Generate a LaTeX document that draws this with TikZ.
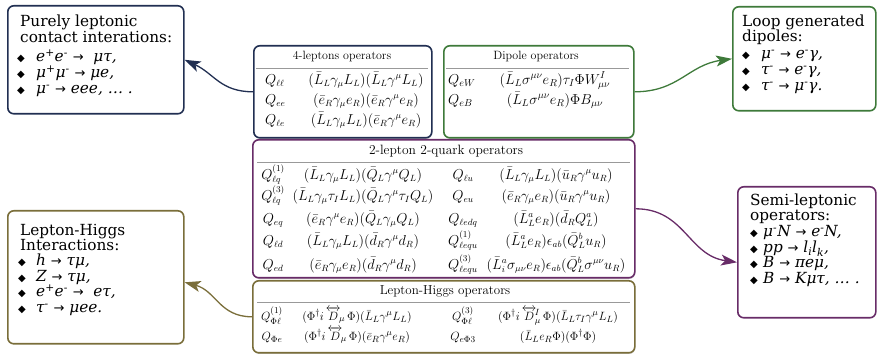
\documentclass[tikz,border=0pt]{standalone}
\usepackage{amsmath}
\usepackage{fontspec}
\usetikzlibrary{arrows.meta,shadows}
\newfontfamily\sch{DejaVu Serif}
\newfontfamily\dvs{DejaVu Sans}
\definecolor{cnavy}{RGB}{33,47,82}
\definecolor{cgreen}{RGB}{62,122,58}
\definecolor{cpurple}{RGB}{104,44,104}
\definecolor{colive}{RGB}{122,110,58}
\newcommand\bul{{\dvs\fontsize{10}{10}\selectfont ◆}}
\newcommand\arr{{\dvs\fontsize{13}{13}\selectfont →}}
\newcommand\sps[1]{\textsuperscript{#1}}
\begin{document}
\begin{tikzpicture}[x=1pt,y=1pt,
  sbox/.style={draw, rounded corners=6pt, line width=1.6pt, fill=white, inner sep=0pt, anchor=north west},
  tbox/.style={sbox, drop shadow={shadow xshift=0.5pt, shadow yshift=-1.2pt, fill=black!35}},
  sidetxt/.style={anchor=base west, inner sep=0pt, font=\sch\fontsize{15.3}{17}\selectfont},
  qcell/.style={anchor=mid west, inner sep=0pt},
  ccell/.style={anchor=mid, inner sep=0pt},
  sepline/.style={draw=black!40, line width=0.6pt},
  conn/.style={line width=1.3pt, -{Stealth[length=16pt,width=11pt,inset=4pt]}}]
\useasboundingbox (0,0) rectangle (878,355);

% ---------- boxes ----------
\node[sbox, draw=cnavy, minimum width=176pt, minimum height=108pt] (pl) at (7,350) {};
\node[tbox, draw=cnavy, minimum width=178pt, minimum height=92pt] (fl) at (253,310) {};
\node[tbox, draw=cgreen, minimum width=190pt, minimum height=92pt] (dip) at (443,310) {};
\node[sbox, draw=cgreen, minimum width=143pt, minimum height=104pt] (loop) at (732,349) {};
\node[tbox, draw=cpurple, minimum width=382pt, minimum height=138pt] (tq) at (252,216) {};
\node[sbox, draw=cpurple, minimum width=138pt, minimum height=131pt] (semi) at (737,169) {};
\node[sbox, draw=colive, minimum width=176pt, minimum height=133pt] (lhi) at (7,145) {};
\node[tbox, draw=colive, minimum width=382pt, minimum height=72pt] (lho) at (252,75) {};

% ---------- side texts ----------
\node[sidetxt] (pl1) at (20,328) {Purely leptonic};
\node[sidetxt] (pl2) at (20,312) {contact interations:};
\node[sidetxt] (pl3) at (17,293) {\makebox[19pt][l]{\bul}\itshape e\sps{+}e\sps{-} \arr{}\ \ μτ,};
\node[sidetxt] (pl4) at (17,277) {\makebox[19pt][l]{\bul}\itshape μ\sps{+}μ\sps{-} \arr{} μe,};
\node[sidetxt] (pl5) at (17,261) {\makebox[19pt][l]{\bul}\itshape μ\sps{-} \arr{} eee, … .};

\node[sidetxt] (lp1) at (742,328) {Loop generated};
\node[sidetxt] (lp2) at (742,313) {dipoles:};
\node[sidetxt] (lp3) at (742,296) {\makebox[19pt][l]{\bul}\itshape μ\sps{-} \arr{} e\sps{-}γ,};
\node[sidetxt] (lp4) at (742,280) {\makebox[19pt][l]{\bul}\itshape τ\sps{-} \arr{} e\sps{-}γ,};
\node[sidetxt] (lp5) at (742,264) {\makebox[19pt][l]{\bul}\itshape τ\sps{-} \arr{} μ\sps{-}γ.};

\node[sidetxt] (lh1) at (20,119) {Lepton-Higgs};
\node[sidetxt] (lh2) at (20,104) {Interactions:};
\node[sidetxt] (lh3) at (18,89) {\makebox[18pt][l]{\bul}\itshape h \arr{} τμ,};
\node[sidetxt] (lh4) at (18,73) {\makebox[18pt][l]{\bul}\itshape Z \arr{} τμ,};
\node[sidetxt] (lh5) at (18,58) {\makebox[18pt][l]{\bul}\itshape e\sps{+}e\sps{-} \arr{}\ \ eτ,};
\node[sidetxt] (lh6) at (18,42) {\makebox[18pt][l]{\bul}\itshape τ\sps{-} \arr{} μee.};

\node[sidetxt] (sm1) at (750,149) {Semi-leptonic};
\node[sidetxt] (sm2) at (750,134) {operators:};
\node[sidetxt] (sm3) at (750,118) {\makebox[13pt][l]{\bul}\itshape μ\sps{-}N \arr{} e\sps{-}N,};
\node[sidetxt] (sm4) at (750,102) {\makebox[13pt][l]{\bul}\itshape pp \arr{} l\textsubscript{i}l\textsubscript{k},};
\node[sidetxt] (sm5) at (750,87) {\makebox[13pt][l]{\bul}\itshape B \arr{} πeμ,};
\node[sidetxt] (sm6) at (750,71) {\makebox[13pt][l]{\bul}\itshape B \arr{} Kμτ, … .};

% ---------- 4-leptons table ----------
\node[ccell, font=\fontsize{12}{14}\selectfont] (flt) at (342,298) {4-leptons operators};
\draw[sepline] (256,287) -- (428,287);
\begin{scope}[every node/.append style={font=\fontsize{13.5}{15}\selectfont}]
\node[qcell] (flq1) at (265,273) {$Q_{\ell\ell}$};
\node[ccell] (fle1) at (366,273) {$(\bar L_L\gamma_\mu L_L)(\bar L_L\gamma^\mu L_L)$};
\node[qcell] (flq2) at (265,253) {$Q_{ee}$};
\node[ccell] (fle2) at (366,253) {$(\bar e_R\gamma_\mu e_R)(\bar e_R\gamma^\mu e_R)$};
\node[qcell] (flq3) at (265,233) {$Q_{\ell e}$};
\node[ccell] (fle3) at (366,233) {$(\bar L_L\gamma_\mu L_L)(\bar e_R\gamma^\mu e_R)$};
\end{scope}

% ---------- dipole table ----------
\node[ccell, font=\fontsize{12}{14}\selectfont] (dpt) at (536,298) {Dipole operators};
\draw[sepline] (446,287) -- (629,287);
\begin{scope}[every node/.append style={font=\fontsize{14}{16}\selectfont}]
\node[qcell] (dpq1) at (448,273) {$Q_{eW}$};
\node[ccell] (dpe1) at (555,273) {$(\bar L_L\sigma^{\mu\nu}e_R)\tau_I\Phi W^I_{\mu\nu}$};
\node[qcell] (dpq2) at (448,253) {$Q_{eB}$};
\node[ccell] (dpe2) at (555,253) {$(\bar L_L\sigma^{\mu\nu}e_R)\Phi B_{\mu\nu}$};
\end{scope}

% ---------- 2-lepton 2-quark table ----------
\begin{scope}[every node/.append style={font=\fontsize{13.5}{15}\selectfont}]
\node[ccell] (tqt) at (446,203) {2-lepton 2-quark operators};
\draw[sepline] (257,193) -- (630,193);
\node[ccell] (tqa1) at (273,178) {$Q^{(1)}_{\ell q}$};
\node[ccell] (tqb1) at (363,178) {$(\bar L_L\gamma_\mu L_L)(\bar Q_L\gamma^\mu Q_L)$};
\node[ccell] (tqc1) at (463,178) {$Q_{\ell u}$};
\node[ccell] (tqd1) at (556,178) {$(\bar L_L\gamma_\mu L_L)(\bar u_R\gamma^\mu u_R)$};
\node[ccell] (tqa2) at (273,157) {$Q^{(3)}_{\ell q}$};
\node[ccell] (tqb2) at (363,157) {$(\bar L_L\gamma_\mu\tau_I L_L)(\bar Q_L\gamma^\mu\tau_I Q_L)$};
\node[ccell] (tqc2) at (463,157) {$Q_{eu}$};
\node[ccell] (tqd2) at (556,157) {$(\bar e_R\gamma_\mu e_R)(\bar u_R\gamma^\mu u_R)$};
\node[ccell] (tqa3) at (273,134) {$Q_{eq}$};
\node[ccell] (tqb3) at (363,134) {$(\bar e_R\gamma^\mu e_R)(\bar Q_L\gamma_\mu Q_L)$};
\node[ccell] (tqc3) at (463,134) {$Q_{\ell edq}$};
\node[ccell] (tqd3) at (556,134) {$(\bar L^a_L e_R)(\bar d_R Q^a_L)$};
\node[ccell] (tqa4) at (273,112) {$Q_{\ell d}$};
\node[ccell] (tqb4) at (363,112) {$(\bar L_L\gamma_\mu L_L)(\bar d_R\gamma^\mu d_R)$};
\node[ccell] (tqc4) at (463,112) {$Q^{(1)}_{\ell equ}$};
\node[ccell] (tqd4) at (556,112) {$(\bar L^a_L e_R)\epsilon_{ab}(\bar Q^b_L u_R)$};
\node[ccell] (tqa5) at (273,88) {$Q_{ed}$};
\node[ccell] (tqb5) at (363,88) {$(\bar e_R\gamma_\mu e_R)(\bar d_R\gamma^\mu d_R)$};
\node[ccell] (tqc5) at (463,88) {$Q^{(3)}_{\ell equ}$};
\node[ccell] (tqd5) at (556,88) {$(\bar L^a_i\sigma_{\mu\nu} e_R)\epsilon_{ab}(\bar Q^b_L\sigma^{\mu\nu} u_R)$};
\end{scope}

% ---------- Lepton-Higgs table ----------
\begin{scope}[every node/.append style={font=\fontsize{13}{15}\selectfont}]
\node[ccell] (lot) at (445,63) {Lepton-Higgs operators};
\draw[sepline] (257,53) -- (630,53);
\node[ccell] (loa1) at (272,37) {$Q^{(1)}_{\Phi\ell}$};
\node[ccell] (lob1) at (357,37) {$(\Phi^\dagger i\,\overleftrightarrow{D}_{\!\mu}\,\Phi)(\bar L_L\gamma^\mu L_L)$};
\node[ccell] (loc1) at (463,37) {$Q^{(3)}_{\Phi\ell}$};
\node[ccell] (lod1) at (558,37) {$(\Phi^\dagger i\,\overleftrightarrow{D}^{\!I}_{\!\mu}\,\Phi)(\bar L_L\tau_I\gamma^\mu L_L)$};
\node[ccell] (loa2) at (272,17) {$Q_{\Phi e}$};
\node[ccell] (lob2) at (357,17) {$(\Phi^\dagger i\,\overleftrightarrow{D}_{\!\mu}\,\Phi)(\bar e_R\gamma^\mu e_R)$};
\node[ccell] (loc2) at (463,17) {$Q_{e\Phi 3}$};
\node[ccell] (lod2) at (558,17) {$(\bar L_L e_R\Phi)(\Phi^\dagger\Phi)$};
\end{scope}

% ---------- connectors ----------
\draw[conn, cnavy] (fl.west) to[out=180, in=-25, looseness=1.1] (pl.east);
\draw[conn, cgreen] (dip.east) to[out=0, in=188, looseness=1.1] (loop.west);
\draw[conn, cpurple] (tq.east) to[out=0, in=172, looseness=1.1] ([yshift=-10pt]semi.west);
\draw[conn, colive] (lho.west) to[out=180, in=-15, looseness=1.1] ([yshift=-5pt]lhi.east);
\end{tikzpicture}
\end{document}
